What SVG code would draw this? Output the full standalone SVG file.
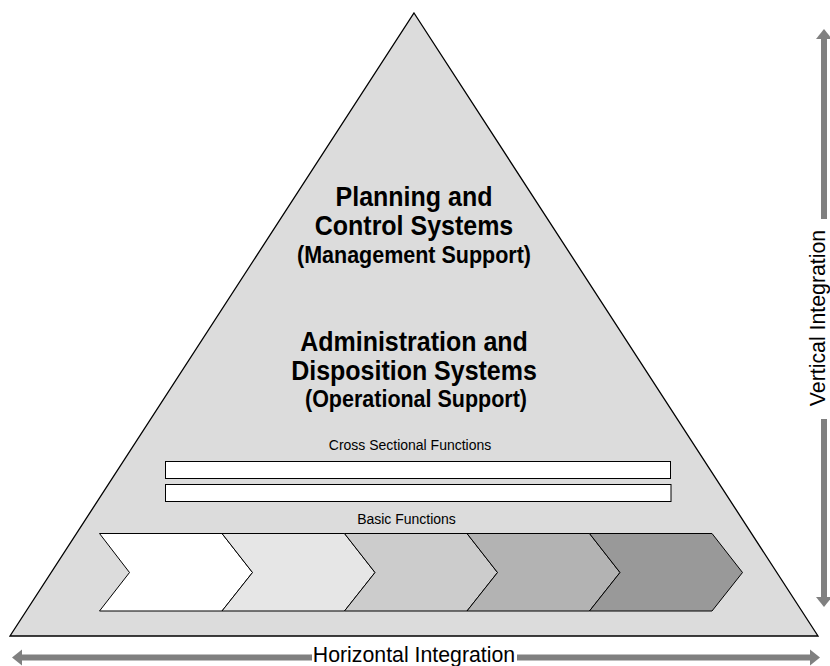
<svg xmlns="http://www.w3.org/2000/svg" width="830" height="666" viewBox="0 0 830 666">
  <style>
    .title { font-family: "Liberation Sans", Arial, sans-serif; font-weight: bold; font-size: 25px; fill: #000; text-anchor: middle; }
    .sub { font-family: "Liberation Sans", Arial, sans-serif; font-weight: bold; font-size: 21.5px; fill: #000; text-anchor: middle; }
    .small { font-family: "Liberation Sans", Arial, sans-serif; font-size: 14px; fill: #000; text-anchor: middle; }
    .axis { font-family: "Liberation Sans", Arial, sans-serif; font-size: 21.3px; fill: #000; text-anchor: middle; }
    .chev { stroke: #000; stroke-width: 1; stroke-linejoin: miter; }
    .bar { fill: #fff; stroke: #000; stroke-width: 1; }
    .shaft { stroke: #808080; stroke-width: 6; fill: none; }
    .head { fill: #808080; }
  </style>
  <rect width="830" height="666" fill="#fff"/>

  <!-- pyramid body -->
  <g id="pyramid">
    <polygon points="414,13 818,636 10,636" fill="#dcdcdc" stroke="#000" stroke-width="1.3" stroke-linejoin="miter"/>
  </g>

  <!-- upper tier (type is set slightly tall) -->
  <g id="planning">
    <text class="title" transform="translate(414,206) scale(1,1.08)">Planning and</text>
    <text class="title" transform="translate(414,235) scale(1,1.08)">Control Systems</text>
    <text class="sub" transform="translate(414,263) scale(1,1.08)">(Management Support)</text>
  </g>

  <!-- middle tier -->
  <g id="administration">
    <text class="title" transform="translate(414,351) scale(1,1.08)">Administration and</text>
    <text class="title" transform="translate(414,380) scale(1,1.08)">Disposition Systems</text>
    <text class="sub" transform="translate(416,407) scale(1,1.08)">(Operational Support)</text>
  </g>

  <!-- cross sectional functions -->
  <g id="cross-sectional">
    <text class="small" transform="translate(410,450) scale(1,1.06)">Cross Sectional Functions</text>
    <rect class="bar" x="165.5" y="461.5" width="505" height="17"/>
    <rect class="bar" x="165.5" y="484.5" width="505.5" height="17"/>
  </g>

  <!-- basic functions value chain -->
  <g id="basic-functions">
    <text class="small" transform="translate(406.5,524) scale(1,1.06)">Basic Functions</text>
    <polygon class="chev" fill="#ffffff" points="99.5,533.5 222,533.5 252.5,572.5 222,611 99.5,611 129.5,572.5"/>
    <polygon class="chev" fill="#e6e6e6" points="222,533.5 344.5,533.5 375,572.5 344.5,611 222,611 252.5,572.5"/>
    <polygon class="chev" fill="#cccccc" points="344.5,533.5 467,533.5 497.5,572.5 467,611 344.5,611 375,572.5"/>
    <polygon class="chev" fill="#b3b3b3" points="467,533.5 589.5,533.5 620,572.5 589.5,611 467,611 497.5,572.5"/>
    <polygon class="chev" fill="#999999" points="589.5,533.5 712,533.5 742.5,572.5 712,611 589.5,611 620,572.5"/>
  </g>

  <!-- integration axes -->
  <g id="connectors">
    <g id="horizontal-axis">
      <line class="shaft" x1="20" y1="657.5" x2="312" y2="657.5"/>
      <line class="shaft" x1="517" y1="657.5" x2="811" y2="657.5"/>
      <polygon class="head" points="12,657.5 22,649.5 22,665.5"/>
      <polygon class="head" points="820,657.5 810,649.5 810,665.5"/>
      <text class="axis" transform="translate(414,662) scale(1,1.06)">Horizontal Integration</text>
    </g>
    <g id="vertical-axis">
      <line class="shaft" x1="824" y1="38" x2="824" y2="219"/>
      <line class="shaft" x1="824" y1="419" x2="824" y2="598"/>
      <polygon class="head" points="824,29 816,39 832,39"/>
      <polygon class="head" points="824,607 816,597 832,597"/>
      <text class="axis" transform="translate(824.5,318) rotate(-90) scale(1,1.0)">Vertical Integration</text>
    </g>
  </g>
</svg>
